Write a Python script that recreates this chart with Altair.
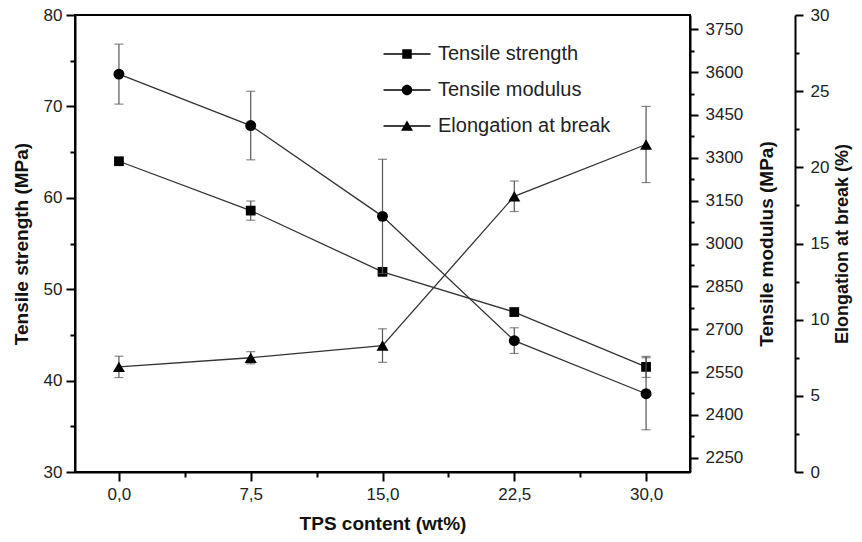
import altair as alt
import pandas as pd

FONT = "Liberation Sans"

# ---- data ----
tps = [0.0, 7.5, 15.0, 22.5, 30.0]
strength = [64.0, 58.6, 51.9, 47.5, 41.5]
strength_err = [0.3, 1.05, 0.4, 0.4, 1.15]
modulus = [3593, 3413, 3095, 2660, 2474]
modulus_err = [105, 120, 200, 45, 126]
elongation = [6.9, 7.5, 8.3, 18.1, 21.5]
elongation_err = [0.7, 0.4, 1.1, 1.0, 2.5]
series = ["Tensile strength", "Tensile modulus", "Elongation at break"]

# ---- tick values ----
x_ticks = [0, 3.75, 7.5, 11.25, 15, 18.75, 22.5, 26.25, 30]
ts_ticks = [30, 35, 40, 45, 50, 55, 60, 65, 70, 75, 80]
mod_ticks = [2250, 2325, 2400, 2475, 2550, 2625, 2700, 2775, 2850, 2925, 3000,
             3075, 3150, 3225, 3300, 3375, 3450, 3525, 3600, 3675, 3750]
el_ticks = [0, 2.5, 5, 7.5, 10, 12.5, 15, 17.5, 20, 22.5, 25, 27.5, 30]

df = pd.DataFrame({
    "tps": tps,
    "strength": strength, "strength_err": strength_err,
    "modulus": modulus, "modulus_err": modulus_err,
    "elongation": elongation, "elongation_err": elongation_err,
})

LINE_COLOR = "#333333"
ERR_COLOR = "#555555"


def dash(test, minor_len):
    # major ticks solid, minor ticks drawn only for their first minor_len pixels
    return {"condition": {"test": test, "value": [20, 0]}, "value": [minor_len, 40]}


x_axis = alt.Axis(
    orient="bottom", values=x_ticks, title="TPS content (wt%)",
    labelExpr="datum.value % 7.5 === 0 ? replace(format(datum.value, '.1f'), '.', ',') : ''",
    tickSize=9, tickDash=dash("datum.value % 7.5 === 0", 5),
    labelPadding=5, titlePadding=12,
)
x_scale = alt.Scale(domain=[-2.5, 32.5], nice=False, zero=False)


def make_series(field, err_field, domain, axis, shape, size):
    scale = alt.Scale(domain=domain, nice=False, zero=False)
    base = alt.Chart(df)
    xenc = alt.X("tps:Q", scale=x_scale, axis=x_axis)
    yenc = alt.Y(f"{field}:Q", scale=scale, axis=axis)
    err = base.mark_errorbar(color=ERR_COLOR, thickness=1.2,
                             ticks={"size": 9, "color": ERR_COLOR}).encode(
        x=xenc, y=yenc, yError=alt.YError(f"{err_field}:Q"),
    )
    line = base.mark_line(color=LINE_COLOR, strokeWidth=1.3).encode(x=xenc, y=yenc)
    pts = base.mark_point(shape=shape, filled=True, color="black", opacity=1, size=size).encode(
        x=xenc, y=yenc,
    )
    return alt.layer(err, line, pts)


ts_axis = alt.Axis(
    orient="left", values=ts_ticks, title="Tensile strength (MPa)",
    labelExpr="datum.value % 10 === 0 ? datum.label : ''",
    tickSize=9, tickDash=dash("datum.value % 10 === 0", 5),
    labelPadding=4, titlePadding=12,
)
mod_axis = alt.Axis(
    orient="right", values=mod_ticks, title="Tensile modulus (MPa)",
    labelExpr="(datum.value - 2250) % 150 === 0 ? datum.label : ''",
    tickSize=8, tickDash=dash("(datum.value - 2250) % 150 === 0", 4),
    labelPadding=7, titlePadding=15, format="d",
    titleAngle=270, titleBaseline="top",
)
el_axis = alt.Axis(
    orient="right", offset=105, values=el_ticks, title="Elongation at break (%)",
    labelExpr="datum.value % 5 === 0 ? datum.label : ''",
    tickSize=8, tickDash=dash("datum.value % 5 === 0", 4),
    labelPadding=7, titlePadding=5, titleFontSize=18,
    titleAngle=270, titleBaseline="top",
)

ts_layer = make_series("strength", "strength_err", [30, 80], ts_axis, "square", 95)
mod_layer = make_series("modulus", "modulus_err", [2200, 3800], mod_axis, "circle", 120)
el_layer = make_series("elongation", "elongation_err", [0, 30], el_axis, "triangle-up", 145)

# legend symbols: line - marker - line (all filled, line drawn as thin bar)
bar = "M-4.7,-0.14H4.7V0.14H-4.7Z"
sq_path = bar + "M-0.95,-0.95H0.95V0.95H-0.95Z"
ci_path = bar + "M-1.05,0A1.05,1.05 0 1,1 1.05,0A1.05,1.05 0 1,1 -1.05,0Z"
tr_path = bar + "M0,-1.1L1.2,0.95L-1.2,0.95Z"

legend_df = pd.DataFrame({"series": series})
legend_layer = alt.Chart(legend_df).mark_point(
    filled=True, color="black", opacity=0
).encode(
    shape=alt.Shape(
        "series:N",
        scale=alt.Scale(domain=series, range=[sq_path, ci_path, tr_path]),
        legend=alt.Legend(
            title=None, orient="none", legendX=322, legendY=29, padding=0,
            labelFontSize=20, labelFont=FONT, labelColor="#222222", labelLimit=400,
            labelOffset=21, symbolSize=100, symbolFillColor="black",
            symbolStrokeWidth=0, symbolOpacity=1, rowPadding=16,
        ),
    )
)

chart = alt.layer(ts_layer, mod_layer, el_layer, legend_layer).resolve_scale(
    y="independent"
).properties(
    width=615, height=457,
    autosize=alt.AutoSizeParams(type="none"),
    padding={"left": 67, "top": 7, "right": 164, "bottom": 62},
    background="white",
).configure_view(
    stroke="black", strokeWidth=2,
).configure_axis(
    grid=False, domainColor="black", domainWidth=2, tickColor="black", tickWidth=2,
    labelFont=FONT, labelFontSize=17, labelColor="#222222",
    titleFont=FONT, titleFontSize=19, titleFontWeight="bold", titleColor="#111111",
)

chart.save("out.html", embed_options={"renderer": "svg", "actions": False})
